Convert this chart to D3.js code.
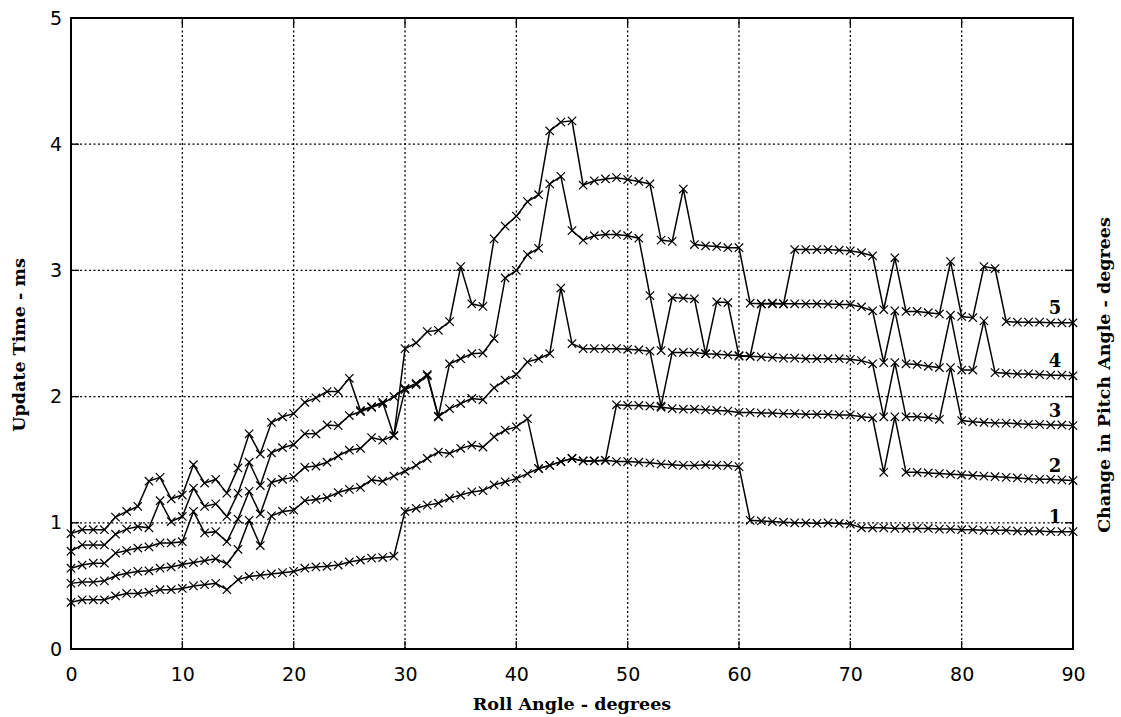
<!DOCTYPE html>
<html>
<head>
<meta charset="utf-8">
<script src="https://cdn.jsdelivr.net/npm/d3@7"></script>
<style>
  body { margin: 0; background: #fff; }
  .tick-label { font-family: "DejaVu Sans", sans-serif; font-size: 19px; fill: #000; }
  .axis-title { font-family: "DejaVu Serif", serif; font-weight: bold; font-size: 17.5px; fill: #000; }
  .series-label { font-family: "DejaVu Serif", serif; font-weight: bold; font-size: 18px; fill: #000; }
</style>
</head>
<body>
<svg id="chart" width="1121" height="717"></svg>
<script>
// roll angle, degrees (one reading per degree)
const rollAngles = d3.range(0, 91);

// update time (ms) for each change in pitch angle
const pitch1 = [
  0.37, 0.39, 0.39, 0.39, 0.42, 0.44, 0.44, 0.45, 0.47, 0.47,
  0.48, 0.50, 0.51, 0.52, 0.47, 0.55, 0.575, 0.585, 0.595, 0.605,
  0.615, 0.64, 0.65, 0.655, 0.665, 0.69, 0.705, 0.72, 0.725, 0.735,
  1.09, 1.115, 1.14, 1.155, 1.195, 1.22, 1.245, 1.255, 1.30, 1.325,
  1.35, 1.39, 1.43, 1.455, 1.485, 1.51, 1.49, 1.49, 1.495, 1.485,
  1.485, 1.48, 1.475, 1.465, 1.46, 1.455, 1.455, 1.46, 1.455, 1.455,
  1.445, 1.02, 1.015, 1.01, 1.005, 1.0, 1.0, 0.995, 1.0, 0.995,
  0.99, 0.96, 0.96, 0.96, 0.955, 0.955, 0.955, 0.955, 0.95, 0.95,
  0.945, 0.945, 0.94, 0.94, 0.94, 0.935, 0.935, 0.935, 0.93, 0.93, 0.93
];
const pitch2 = [
  0.52, 0.53, 0.53, 0.54, 0.58, 0.60, 0.615, 0.62, 0.64, 0.65,
  0.67, 0.685, 0.70, 0.715, 0.675, 0.79, 1.02, 0.82, 1.055, 1.09,
  1.10, 1.175, 1.185, 1.20, 1.24, 1.265, 1.28, 1.34, 1.33, 1.37,
  1.41, 1.455, 1.51, 1.56, 1.55, 1.59, 1.615, 1.60, 1.68, 1.735,
  1.76, 1.825, 1.43, 1.455, 1.485, 1.51, 1.49, 1.49, 1.495, 1.935,
  1.93, 1.93, 1.925, 1.915, 1.905, 1.90, 1.90, 1.895, 1.89, 1.885,
  1.875, 1.875, 1.87, 1.87, 1.865, 1.865, 1.86, 1.86, 1.86, 1.855,
  1.855, 1.84, 1.832, 1.40, 1.84, 1.40, 1.40, 1.395, 1.39, 1.385,
  1.38, 1.375, 1.37, 1.365, 1.36, 1.355, 1.35, 1.345, 1.345, 1.34, 1.335
];
const pitch3 = [
  0.64, 0.665, 0.68, 0.68, 0.76, 0.78, 0.80, 0.81, 0.84, 0.84,
  0.85, 1.09, 0.92, 0.93, 0.85, 1.03, 1.25, 1.07, 1.32, 1.345,
  1.36, 1.44, 1.45, 1.48, 1.53, 1.575, 1.59, 1.675, 1.655, 1.69,
  2.055, 2.095, 2.165, 1.84, 1.905, 1.945, 1.985, 1.975, 2.07, 2.13,
  2.175, 2.275, 2.30, 2.34, 2.86, 2.42, 2.38, 2.38, 2.38, 2.38,
  2.375, 2.37, 2.36, 1.925, 2.35, 2.35, 2.35, 2.34, 2.335, 2.33,
  2.325, 2.32, 2.315, 2.31, 2.305, 2.305, 2.30, 2.30, 2.30, 2.30,
  2.295, 2.285, 2.26, 1.84, 2.27, 1.84, 1.84, 1.835, 1.82, 2.23,
  1.81, 1.80, 1.795, 1.79, 1.79, 1.785, 1.78, 1.78, 1.775, 1.775, 1.77
];
const pitch4 = [
  0.775, 0.825, 0.825, 0.825, 0.91, 0.95, 0.97, 0.96, 1.175, 1.01,
  1.05, 1.275, 1.13, 1.15, 1.05, 1.235, 1.48, 1.295, 1.555, 1.595,
  1.62, 1.705, 1.705, 1.775, 1.77, 1.85, 1.88, 1.915, 1.945, 2.0,
  2.065, 2.105, 2.175, 1.845, 2.26, 2.30, 2.34, 2.345, 2.46, 2.94,
  3.0, 3.125, 3.175, 3.685, 3.745, 3.315, 3.24, 3.275, 3.285, 3.285,
  3.275, 3.255, 2.80, 2.365, 2.785, 2.78, 2.775, 2.34, 2.75, 2.745,
  2.32, 2.32, 2.735, 2.735, 2.735, 2.735, 2.735, 2.735, 2.733, 2.73,
  2.73, 2.71, 2.68, 2.27, 2.68, 2.26, 2.255, 2.24, 2.23, 2.645,
  2.21, 2.21, 2.60, 2.19, 2.185, 2.18, 2.18, 2.175, 2.17, 2.17, 2.165
];
const pitch5 = [
  0.915, 0.945, 0.945, 0.945, 1.045, 1.09, 1.13, 1.33, 1.36, 1.19,
  1.22, 1.46, 1.315, 1.345, 1.235, 1.435, 1.705, 1.545, 1.795, 1.84,
  1.865, 1.955, 1.99, 2.04, 2.04, 2.145, 1.89, 1.92, 1.955, 1.69,
  2.38, 2.425, 2.515, 2.525, 2.595, 3.03, 2.735, 2.715, 3.25, 3.35,
  3.43, 3.545, 3.60, 4.105, 4.175, 4.185, 3.675, 3.71, 3.725, 3.735,
  3.72, 3.705, 3.685, 3.24, 3.23, 3.645, 3.205, 3.195, 3.19, 3.18,
  3.18, 2.74, 2.735, 2.74, 2.735, 3.165, 3.165, 3.165, 3.165, 3.16,
  3.155, 3.14, 3.115, 2.69, 3.10, 2.675, 2.675, 2.665, 2.655, 3.07,
  2.635, 2.625, 3.03, 3.015, 2.595, 2.59, 2.59, 2.59, 2.585, 2.585, 2.585
];

const seriesNames = ['1', '2', '3', '4', '5'];
const xTicks = [0, 10, 20, 30, 40, 50, 60, 70, 80, 90];
const yTicks = [0, 1, 2, 3, 4, 5];

const series = [pitch1, pitch2, pitch3, pitch4, pitch5].map((values, i) => ({
  name: seriesNames[i],
  points: values.map((v, j) => ({ roll: rollAngles[j], time: v }))
}));

const svg = d3.select('#chart');
const x = d3.scaleLinear().domain([0, 90]).range([71, 1073]);
const y = d3.scaleLinear().domain([0, 5]).range([649, 18]);

// dotted grid
const grid = svg.append('g').attr('stroke', '#000').attr('stroke-width', 1.3).attr('stroke-dasharray', '2,2.5');
grid.selectAll('.vg').data(xTicks.slice(1, -1)).enter().append('line')
  .attr('x1', d => x(d)).attr('x2', d => x(d))
  .attr('y1', y(0)).attr('y2', y(5));
grid.selectAll('.hg').data(yTicks.slice(1, -1)).enter().append('line')
  .attr('y1', d => y(d)).attr('y2', d => y(d))
  .attr('x1', x(0)).attr('x2', x(90));

// inner ticks on all four sides
const ticks = svg.append('g').attr('stroke', '#000').attr('stroke-width', 1.3);
xTicks.forEach(t => {
  ticks.append('line').attr('x1', x(t)).attr('x2', x(t)).attr('y1', y(0)).attr('y2', y(0) - 8);
  ticks.append('line').attr('x1', x(t)).attr('x2', x(t)).attr('y1', y(5)).attr('y2', y(5) + 8);
});
yTicks.forEach(t => {
  ticks.append('line').attr('y1', y(t)).attr('y2', y(t)).attr('x1', x(0)).attr('x2', x(0) + 8);
  ticks.append('line').attr('y1', y(t)).attr('y2', y(t)).attr('x1', x(90)).attr('x2', x(90) - 8);
});

// frame
svg.append('rect')
  .attr('x', x(0)).attr('y', y(5))
  .attr('width', x(90) - x(0)).attr('height', y(0) - y(5))
  .attr('fill', 'none').attr('stroke', '#000').attr('stroke-width', 2);

// tick labels
const xAxis = svg.append('g').attr('transform', `translate(0,${y(0)})`)
  .call(d3.axisBottom(x).tickValues(xTicks).tickSize(0).tickPadding(19).tickFormat(d3.format('d')));
const yAxis = svg.append('g').attr('transform', `translate(${x(0)},0)`)
  .call(d3.axisLeft(y).tickValues(yTicks).tickSize(0).tickPadding(9).tickFormat(d3.format('d')));
[xAxis, yAxis].forEach(a => {
  a.select('.domain').remove();
  a.selectAll('text').attr('class', 'tick-label').attr('font-size', null).attr('font-family', null);
  a.attr('font-size', null).attr('font-family', null);
});

// series lines and x markers
const line = d3.line().x(d => x(d.roll)).y(d => y(d.time));
const plot = svg.append('g');
series.forEach(s => {
  plot.append('path')
    .datum(s.points)
    .attr('d', line)
    .attr('fill', 'none')
    .attr('stroke', '#000')
    .attr('stroke-width', 1.5);
  plot.selectAll(null).data(s.points).enter().append('path')
    .attr('transform', d => `translate(${x(d.roll)},${y(d.time)})`)
    .attr('d', 'M-4.2,-4.2L4.2,4.2M-4.2,4.2L4.2,-4.2')
    .attr('stroke', '#000')
    .attr('stroke-width', 1.2);
});

// series labels at the right end
series.forEach(s => {
  const last = s.points[s.points.length - 1];
  svg.append('text')
    .attr('class', 'series-label')
    .attr('x', x(last.roll) - 18)
    .attr('y', y(last.time) - 9)
    .attr('text-anchor', 'middle')
    .text(s.name);
});

// axis titles
svg.append('text').attr('class', 'axis-title')
  .attr('x', (x(0) + x(90)) / 2).attr('y', 710)
  .attr('text-anchor', 'middle')
  .text('Roll Angle - degrees');
svg.append('text').attr('class', 'axis-title')
  .attr('transform', `translate(25,345) rotate(-90)`)
  .attr('text-anchor', 'middle')
  .text('Update Time - ms');
svg.append('text').attr('class', 'axis-title')
  .attr('transform', `translate(1110,375) rotate(-90)`)
  .attr('text-anchor', 'middle')
  .text('Change in Pitch Angle - degrees');
</script>
</body>
</html>
